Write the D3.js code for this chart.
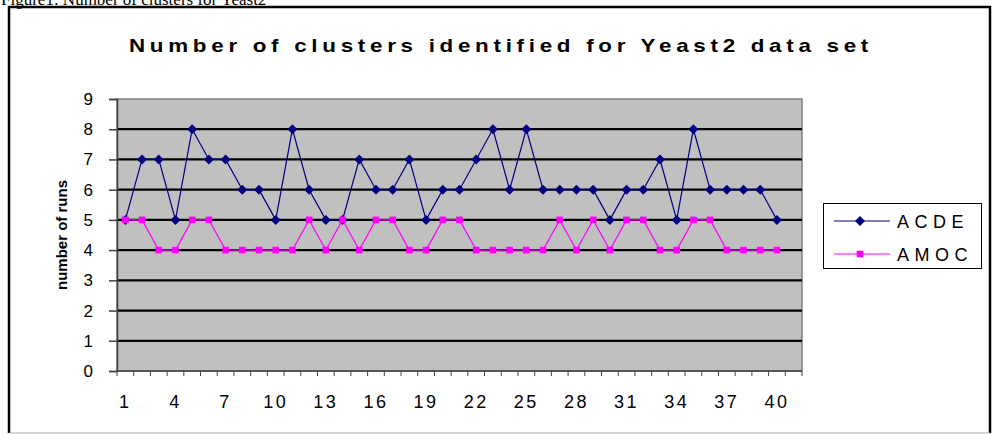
<!DOCTYPE html>
<html>
<head>
<meta charset="utf-8">
<script src="https://cdn.jsdelivr.net/npm/d3@7"></script>
<style>
  body { margin: 0; background: #fff; }
  text { font-family: Arial, "Liberation Sans", sans-serif; }
</style>
</head>
<body>
<div id="chart"></div>
<script>
// runs 1..40, plus one empty slot at the end (Excel category axis)
const runs = [1, 2, 3, 4, 5, 6, 7, 8, 9, 10, 11, 12, 13, 14, 15, 16, 17, 18, 19, 20,
  21, 22, 23, 24, 25, 26, 27, 28, 29, 30, 31, 32, 33, 34, 35, 36, 37, 38, 39, 40, 41];
const xLabels = [1, 4, 7, 10, 13, 16, 19, 22, 25, 28, 31, 34, 37, 40];
const yTicks = [0, 1, 2, 3, 4, 5, 6, 7, 8, 9];

const acde = [5, 7, 7, 5, 8, 7, 7, 6, 6, 5, 8, 6, 5, 5, 7, 6, 6, 7, 5, 6,
  6, 7, 8, 6, 8, 6, 6, 6, 6, 5, 6, 6, 7, 5, 8, 6, 6, 6, 6, 5];
const amoc = [5, 5, 4, 4, 5, 5, 4, 4, 4, 4, 4, 5, 4, 5, 4, 5, 5, 4, 4, 5,
  5, 4, 4, 4, 4, 4, 5, 4, 5, 4, 5, 5, 4, 4, 5, 5, 4, 4, 4, 4];

const series = [
  { name: 'ACDE', values: acde, color: '#000080', marker: 'diamond' },
  { name: 'AMOC', values: amoc, color: '#FF00FF', marker: 'square' }
];

const width = 992, height = 434;
const plot = { left: 117, right: 802, top: 99, bottom: 371 };

const svg = d3.select('#chart')
  .append('svg')
  .attr('width', width)
  .attr('height', height);

// caption of the figure, cut off at the top like in the document
svg.append('text')
  .attr('x', 1)
  .attr('y', 5)
  .style('font-family', '"Liberation Serif", "Times New Roman", serif')
  .style('font-size', '17px')
  .text('Figure1: Number of clusters for Yeast2');

// chart area border
svg.append('path')
  .attr('d', 'M9,433 L9,7 L990,7 L990,433')
  .attr('fill', 'none')
  .attr('stroke', '#000')
  .attr('stroke-width', 2.5);
svg.append('line')
  .attr('x1', 9).attr('x2', 990)
  .attr('y1', 433).attr('y2', 433)
  .attr('stroke', '#aaa');

// title (the chart in the document is stretched sideways)
svg.append('text')
  .attr('x', 129)
  .attr('y', 52)
  .attr('textLength', 744)
  .attr('lengthAdjust', 'spacingAndGlyphs')
  .style('font-size', '19px')
  .style('font-weight', 'bold')
  .style('letter-spacing', '4px')
  .text('Number of clusters identified for Yeast2 data set');

const x = d3.scaleBand()
  .domain(runs)
  .range([plot.left, plot.right])
  .paddingInner(0)
  .paddingOuter(0);

const y = d3.scaleLinear()
  .domain([0, 9])
  .range([plot.bottom, plot.top]);

const cx = (i) => x(runs[i]) + x.bandwidth() / 2;

// plot area
svg.append('rect')
  .attr('x', plot.left)
  .attr('y', plot.top)
  .attr('width', plot.right - plot.left)
  .attr('height', plot.bottom - plot.top)
  .attr('fill', '#C0C0C0')
  .attr('stroke', '#808080')
  .attr('stroke-width', 1.5);

// gridlines
svg.append('g')
  .selectAll('line')
  .data(yTicks.filter((d) => d > 0 && d < 9))
  .enter()
  .append('line')
  .attr('x1', plot.left)
  .attr('x2', plot.right)
  .attr('y1', (d) => y(d))
  .attr('y2', (d) => y(d))
  .attr('stroke', '#000')
  .attr('stroke-width', 2.2);

// y axis
const yAxis = svg.append('g')
  .attr('transform', 'translate(' + plot.left + ',0)')
  .call(d3.axisLeft(y).tickValues(yTicks).tickSize(8).tickPadding(16));
yAxis.select('.domain').attr('stroke', '#404040').attr('stroke-width', 1.5);
yAxis.selectAll('.tick line').attr('stroke', '#404040').attr('stroke-width', 1.5);
yAxis.selectAll('.tick text')
  .style('font-size', '17px')
  .style('font-family', 'Arial, "Liberation Sans", sans-serif')
  .attr('fill', '#000');

// x axis: ticks between categories
const xTickPos = runs.map((d) => x(d)).concat([plot.right]);
svg.append('g')
  .selectAll('line')
  .data(xTickPos)
  .enter()
  .append('line')
  .attr('x1', (d) => d)
  .attr('x2', (d) => d)
  .attr('y1', plot.bottom)
  .attr('y2', plot.bottom + 5)
  .attr('stroke', '#404040')
  .attr('stroke-width', 1);
svg.append('line')
  .attr('x1', plot.left).attr('x2', plot.right)
  .attr('y1', plot.bottom).attr('y2', plot.bottom)
  .attr('stroke', '#404040')
  .attr('stroke-width', 1.5);

svg.append('g')
  .selectAll('text')
  .data(xLabels)
  .enter()
  .append('text')
  .attr('x', (d) => x(d) + x.bandwidth() / 2)
  .attr('y', 408)
  .attr('text-anchor', 'middle')
  .style('font-size', '18px')
  .style('letter-spacing', '2.5px')
  .text((d) => d);

// y axis title
svg.append('text')
  .attr('transform', 'translate(67,235) rotate(-90)')
  .attr('text-anchor', 'middle')
  .style('font-size', '15px')
  .style('font-weight', 'bold')
  .text('number of runs');

// series
const line = d3.line()
  .x((d, i) => cx(i))
  .y((d) => y(d));

const markerPath = (type) =>
  type === 'diamond'
    ? d3.symbol().type(d3.symbolDiamond2).size(64)()
    : d3.symbol().type(d3.symbolSquare).size(44)();

series.forEach((s) => {
  svg.append('path')
    .datum(s.values)
    .attr('d', line)
    .attr('fill', 'none')
    .attr('stroke', s.color)
    .attr('stroke-width', 1.2);

  svg.append('g')
    .selectAll('path')
    .data(s.values)
    .enter()
    .append('path')
    .attr('d', markerPath(s.marker))
    .attr('transform', (d, i) => 'translate(' + cx(i) + ',' + y(d) + ')')
    .attr('fill', s.color);
});

// legend
const legend = svg.append('g');
legend.append('rect')
  .attr('x', 823.5).attr('y', 203.5)
  .attr('width', 158).attr('height', 65)
  .attr('fill', '#fff')
  .attr('stroke', '#000')
  .attr('stroke-width', 1);

series.forEach((s, i) => {
  const ly = 221 + i * 33;
  legend.append('line')
    .attr('x1', 834).attr('x2', 890)
    .attr('y1', ly).attr('y2', ly)
    .attr('stroke', s.color)
    .attr('stroke-width', 1.2);
  legend.append('path')
    .attr('d', markerPath(s.marker))
    .attr('transform', 'translate(860,' + ly + ')')
    .attr('fill', s.color);
  legend.append('text')
    .attr('x', 897)
    .attr('y', ly + 7)
    .style('font-size', '18px')
    .style('letter-spacing', '5.5px')
    .text(s.name);
});
</script>
</body>
</html>
